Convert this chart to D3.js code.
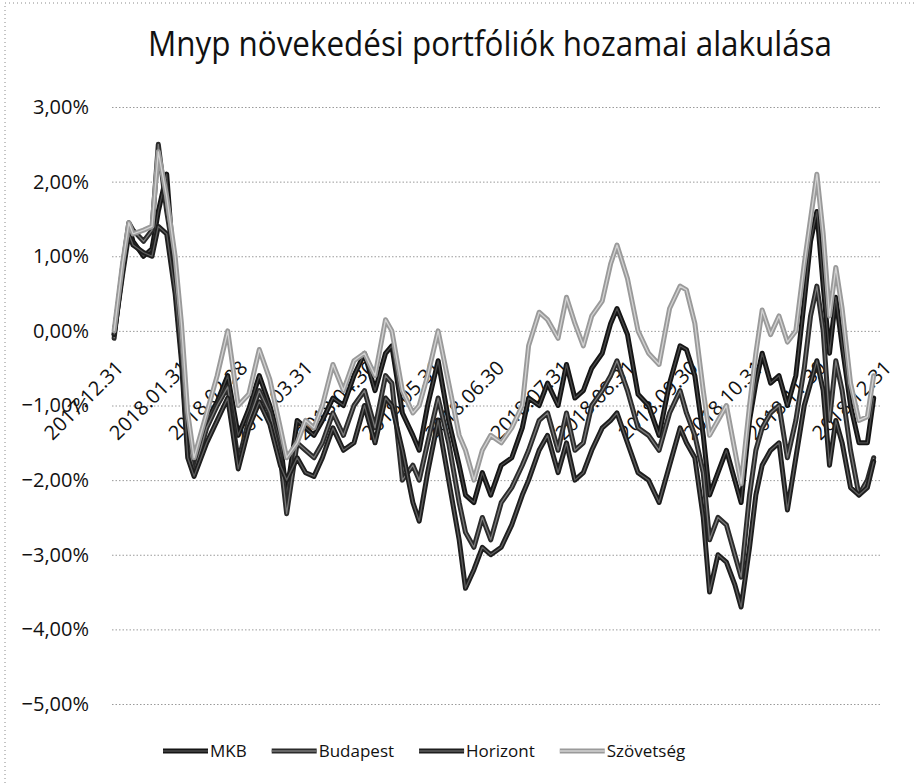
<!DOCTYPE html>
<html>
<head>
<meta charset="utf-8">
<script src="https://cdn.jsdelivr.net/npm/d3@7"></script>
<style>
body{margin:0;background:#fff;}
svg text{font-family:"Open Sans", sans-serif; fill:#111;}
</style>
</head>
<body>
<svg id="chart" width="915" height="783"></svg>
<script>
/* chart data */

// dates of the points
var dates = ['2018.01.01','2018.01.05','2018.01.08','2018.01.10','2018.01.15','2018.01.19','2018.01.22','2018.01.26','2018.01.30',
  '2018.02.02','2018.02.05','2018.02.08','2018.02.14','2018.02.19','2018.02.24',
  '2018.03.01','2018.03.06','2018.03.11','2018.03.16','2018.03.21','2018.03.24','2018.03.29',
  '2018.04.02','2018.04.06','2018.04.10','2018.04.15','2018.04.20','2018.04.25','2018.04.30',
  '2018.05.05','2018.05.10','2018.05.13','2018.05.18','2018.05.23','2018.05.26','2018.05.30',
  '2018.06.04','2018.06.09','2018.06.14','2018.06.17','2018.06.21','2018.06.25','2018.06.29',
  '2018.07.04','2018.07.09','2018.07.14','2018.07.17','2018.07.22','2018.07.26','2018.07.31',
  '2018.08.04','2018.08.08','2018.08.12','2018.08.16','2018.08.21','2018.08.25','2018.08.28',
  '2018.09.02','2018.09.07','2018.09.12','2018.09.17','2018.09.22','2018.09.27','2018.09.30',
  '2018.10.04','2018.10.08','2018.10.11','2018.10.15','2018.10.19','2018.10.23','2018.10.26','2018.10.30',
  '2018.11.02','2018.11.05','2018.11.09','2018.11.13','2018.11.17','2018.11.21','2018.11.25','2018.11.28',
  '2018.12.01','2018.12.04','2018.12.07','2018.12.10','2018.12.13','2018.12.17','2018.12.21','2018.12.25','2018.12.28']

// hozam %
var mkb = [-0.05,0.8,1.4,1.2,1.0,1.1,1.6,2.1,0.6,
  -0.3,-1.6,-1.85,-1.2,-0.95,-0.6,
  -1.4,-1.05,-0.6,-1.0,-1.5,-2.2,-1.2,
  -1.3,-1.4,-1.2,-0.9,-1.0,-0.6,-0.3,
  -0.8,-0.3,-0.2,-1.1,-1.4,-1.6,-1.0,
  -0.4,-1.2,-1.8,-2.2,-2.3,-1.9,-2.2,
  -1.8,-1.7,-1.3,-0.9,-1.0,-0.7,-1.0,
  -0.45,-0.9,-0.8,-0.5,-0.3,0.1,0.3,
  -0.05,-0.85,-1.0,-1.4,-0.7,-0.2,-0.25,
  -0.6,-1.4,-2.2,-1.9,-1.6,-2.0,-2.3,-1.2,
  -0.7,-0.3,-0.7,-0.6,-1.0,-0.6,0.4,1.2,
  1.6,0.6,-0.3,0.45,-0.2,-1.0,-1.5,-1.5,-0.9]

var budapest = [-0.1,0.85,1.45,1.35,1.2,1.35,2.5,1.6,0.9,
  -0.2,-1.5,-1.9,-1.3,-1.0,-0.75,
  -1.75,-1.2,-0.8,-1.1,-1.7,-2.45,-1.5,
  -1.6,-1.7,-1.5,-1.1,-1.4,-1.0,-0.8,
  -1.3,-0.6,-0.7,-2.0,-1.8,-2.0,-1.5,
  -0.9,-1.5,-2.3,-2.7,-2.9,-2.5,-2.8,
  -2.3,-2.1,-1.8,-1.6,-1.2,-1.1,-1.6,
  -1.1,-1.6,-1.5,-1.0,-0.8,-0.6,-0.4,
  -0.8,-1.3,-1.4,-1.6,-1.1,-0.8,-1.1,
  -1.4,-1.9,-2.8,-2.5,-2.6,-3.0,-3.3,-2.2,
  -1.6,-1.3,-1.1,-1.0,-1.7,-1.2,-0.5,0.2,
  0.6,0.0,-1.2,-0.4,-0.8,-1.6,-2.2,-2.0,-1.7]

var horizont = [-0.05,0.75,1.3,1.15,1.05,1.0,1.4,1.3,0.5,
  -0.4,-1.7,-1.95,-1.5,-1.2,-0.9,
  -1.85,-1.3,-0.95,-1.25,-1.8,-2.0,-1.7,
  -1.9,-1.95,-1.7,-1.3,-1.6,-1.5,-1.0,
  -1.5,-0.9,-1.0,-1.6,-2.3,-2.55,-1.9,
  -1.2,-2.0,-2.8,-3.45,-3.2,-2.9,-3.0,
  -2.9,-2.6,-2.2,-2.0,-1.6,-1.4,-1.9,
  -1.5,-2.0,-1.9,-1.6,-1.3,-1.2,-1.1,
  -1.5,-1.9,-2.0,-2.3,-1.8,-1.3,-1.5,
  -1.7,-2.5,-3.5,-3.0,-3.1,-3.4,-3.7,-2.9,
  -2.2,-1.8,-1.6,-1.5,-2.4,-1.7,-1.0,-0.7,
  -0.4,-0.8,-1.8,-1.2,-1.5,-2.1,-2.2,-2.1,-1.75]

var szovetseg = [0.0,0.9,1.45,1.3,1.35,1.4,2.4,1.8,1.0,
  0.1,-1.1,-1.7,-1.1,-0.6,0.0,
  -1.0,-0.85,-0.25,-0.65,-1.3,-1.7,-1.5,
  -1.2,-1.3,-1.0,-0.45,-0.8,-0.4,-0.3,
  -0.6,0.15,0.0,-0.8,-1.1,-1.0,-0.6,
  0.0,-0.7,-1.4,-1.6,-2.0,-1.6,-1.4,
  -1.5,-1.3,-1.0,-0.2,0.25,0.15,-0.1,
  0.45,0.1,-0.2,0.2,0.4,0.9,1.15,
  0.7,0.0,-0.3,-0.45,0.3,0.6,0.55,
  0.1,-0.8,-1.4,-1.2,-1.0,-1.6,-2.05,-1.0,
  -0.3,0.28,-0.05,0.2,-0.15,0.0,0.9,1.5,
  2.1,1.3,0.2,0.85,0.3,-0.7,-1.2,-1.15,-0.6]

var seriesNames = ['MKB','Budapest','Horizont','Szövetség']
var xTickLabels = ['2017.12.31','2018.01.31','2018.02.28','2018.03.31','2018.04.30','2018.05.31','2018.06.30',
  '2018.07.31','2018.08.31','2018.09.30','2018.10.31','2018.11.30','2018.12.31']
var yTicks = [3,2,1,0,-1,-2,-3,-4,-5]

// vonal stílusok (szürke scan)
var lineStyle = {
  'MKB':       {outer:'#151515', inner:'#4a4a4a'},
  'Budapest':  {outer:'#2b2b2b', inner:'#7a7a7a'},
  'Horizont':  {outer:'#1e1e1e', inner:'#5e5e5e'},
  'Szövetség': {outer:'#9a9a9a', inner:'#d2d2d2'}
}

var parseDate = d3.timeParse('%Y.%m.%d')
var svg = d3.select('#chart')

// keret
svg.append('rect')
  .attr('x',5).attr('y',3).attr('width',930).attr('height',800)
  .attr('fill','none').attr('stroke','#8a8a8a').attr('stroke-dasharray','1,3')

var x = d3.scaleTime()
  .domain([parseDate(xTickLabels[0]), parseDate(xTickLabels[xTickLabels.length-1])])
  .range([112, 880])
var y = d3.scaleLinear().domain([-5, 3]).range([704, 107])

// y axis + gridlines
var yAxis = d3.axisLeft(y)
  .tickValues(yTicks)
  .tickSize(-(880-112))
  .tickPadding(23)
  .tickFormat(function(d){ return d3.format('.2f')(d).replace('.', ',') + '%' })
var gy = svg.append('g').attr('transform','translate(112,0)').call(yAxis)
gy.select('.domain').remove()
gy.selectAll('line').attr('stroke','#9a9a9a').attr('stroke-dasharray','1.5,2')
gy.selectAll('text').attr('font-size','20px').attr('fill','#111')

// x axis: labels at the 0 line, rotated
var xAxis = d3.axisBottom(x)
  .tickValues(xTickLabels.map(parseDate))
  .tickSize(0)
  .tickFormat(d3.timeFormat('%Y.%m.%d'))
var gx = svg.append('g').attr('transform','translate(0,' + y(0) + ')').call(xAxis)
gx.select('.domain').remove()
gx.selectAll('text')
  .attr('font-size','20px')
  .attr('fill','#111')
  .attr('text-anchor','end')
  .attr('x',0).attr('y',0)
  .attr('dy','0.72em')
  .attr('transform','translate(2,28) rotate(-45)')

// lines
var allSeries = [mkb, budapest, horizont, szovetseg]
var line = d3.line()
  .x(function(d){ return x(d.date) })
  .y(function(d){ return y(d.v) })

allSeries.forEach(function(vals, i){
  var pts = vals.map(function(v, j){ return {date: parseDate(dates[j]), v: v} })
  var st = lineStyle[seriesNames[i]]
  svg.append('path').datum(pts)
    .attr('d', line).attr('fill','none')
    .attr('stroke', st.outer).attr('stroke-width', 5)
    .attr('stroke-linejoin','round').attr('stroke-linecap','round')
  svg.append('path').datum(pts)
    .attr('d', line).attr('fill','none')
    .attr('stroke', st.inner).attr('stroke-width', 1.3)
    .attr('stroke-linejoin','round')
})

// title
svg.append('text')
  .attr('x', 490).attr('y', 56)
  .attr('text-anchor','middle')
  .attr('font-size','35px')
  .attr('textLength', 684)
  .attr('lengthAdjust','spacingAndGlyphs')
  .text('Mnyp növekedési portfóliók hozamai alakulása')

// legend
var lx = 163
var legend = svg.append('g').attr('transform','translate(0,751)')
seriesNames.forEach(function(name){
  var st = lineStyle[name]
  legend.append('line').attr('x1',lx).attr('x2',lx+45).attr('y1',0).attr('y2',0)
    .attr('stroke',st.outer).attr('stroke-width',5)
  legend.append('line').attr('x1',lx).attr('x2',lx+45).attr('y1',0).attr('y2',0)
    .attr('stroke',st.inner).attr('stroke-width',1.3)
  var t = legend.append('text').attr('x', lx+47).attr('y', 0).attr('dy','0.35em')
    .attr('font-size','17px').text(name)
  lx = lx + 47 + t.node().getComputedTextLength() + 25
})
</script>
</body>
</html>
